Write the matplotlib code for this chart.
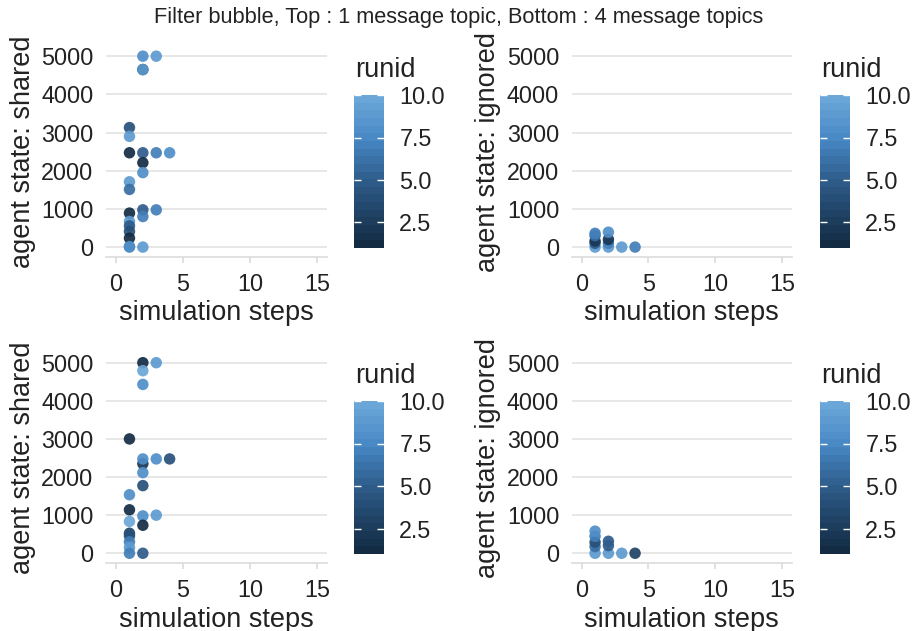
import numpy as np
import matplotlib
matplotlib.use('Agg')
import matplotlib.pyplot as plt
from matplotlib.colors import LinearSegmentedColormap, Normalize
import matplotlib.cm as cm

plt.rcParams['font.family'] = ['Liberation Sans', 'DejaVu Sans']

# Top row : 1 message topic
shared1_step = [2, 2, 2, 3, 1, 1, 1, 2, 3, 4, 2, 2, 1, 1, 1, 1, 1, 1, 1, 1, 1, 2, 2, 2, 3]
shared1_val = [5000, 4650, 4650, 5000, 3130, 2900, 2470, 2470, 2470, 2470, 2210, 1950, 1710, 1510,
               890, 670, 555, 410, 235, 15, 0, 975, 800, 0, 975]
shared1_run = [8, 1, 9, 9, 4, 9, 1, 5, 7, 8, 1, 8, 9, 6, 1, 9, 5, 4, 1, 7, 8, 5, 7, 9, 7]

ignored1_step = [1, 1, 1, 1, 1, 2, 2, 2, 2, 3, 4]
ignored1_val = [0, 100, 160, 300, 360, 0, 100, 200, 390, 0, 0]
ignored1_run = [9, 5, 2, 6, 7, 9, 7, 2, 8, 9, 7]

# Bottom row : 4 message topics
shared4_step = [2, 2, 2, 3, 1, 2, 2, 3, 4, 2, 2, 1, 1, 1, 1, 1, 1, 1, 1, 2, 2, 2, 3]
shared4_val = [5000, 4790, 4430, 5000, 3000, 2350, 2475, 2475, 2475, 2115, 1775,
               1535, 1140, 835, 525, 455, 300, 150, 0, 980, 735, 0, 1000]
shared4_run = [1, 10, 8, 9, 1, 2, 8, 8, 4, 8, 4, 8, 1, 10, 3, 4, 7, 9, 7, 8, 1, 5, 9]

ignored4_step = [1, 1, 1, 1, 1, 2, 2, 2, 3, 4]
ignored4_val = [0, 175, 290, 445, 580, 0, 200, 315, 0, 0]
ignored4_run = [9, 6, 4, 7, 8, 9, 5, 5, 9, 3]

x_ticks = [0, 5, 10, 15]
y_ticks = [0, 1000, 2000, 3000, 4000, 5000]
cbar_ticks = [2.5, 5.0, 7.5, 10.0]

cmap = LinearSegmentedColormap.from_list(
    'gg', [(0.0, '#132B43'), (0.44, '#2e5c8a'), (0.72, '#4787c4'), (1.0, '#6aa6d8')])
norm = Normalize(vmin=1, vmax=10)

fig = plt.figure(figsize=(9.18, 6.31), dpi=100)
fig.text(0.5, 1 - 17 / 631, 'Filter bubble, Top : 1 message topic, Bottom : 4 message topics',
         ha='center', va='center', fontsize=15.7, color='#222222')

panels = [
    (shared1_step, shared1_val, shared1_run, 'agent state: shared', [0.1155, 0.5933, 0.2407, 0.3328], 354, 95),
    (ignored1_step, ignored1_val, ignored1_run, 'agent state: ignored', [0.6228, 0.5933, 0.2397, 0.3328], 820, 95),
    (shared4_step, shared4_val, shared4_run, 'agent state: shared', [0.1155, 0.1081, 0.2407, 0.3322], 354, 401),
    (ignored4_step, ignored4_val, ignored4_run, 'agent state: ignored', [0.6228, 0.1081, 0.2397, 0.3322], 820, 401),
]

for steps, vals, runs, ylab, rect, cx, cy in panels:
    ax = fig.add_axes(rect)
    ax.scatter(steps, vals, c=runs, cmap=cmap, norm=norm, s=68, alpha=0.92,
               edgecolors='none', zorder=3)
    ax.set_xlim(-0.75, 15.75)
    ax.set_ylim(-250, 5250)
    ax.set_xticks(x_ticks)
    ax.set_yticks(y_ticks)
    ax.grid(axis='y', color='#e3e3e3', linewidth=1.2)
    ax.set_axisbelow(True)
    for s in ['top', 'right', 'left']:
        ax.spines[s].set_visible(False)
    ax.spines['bottom'].set_color('#dcdcdc')
    ax.spines['bottom'].set_linewidth(1.2)
    ax.tick_params(axis='y', length=0, pad=9, labelsize=16.8, labelcolor='#222222')
    ax.tick_params(axis='x', length=4, width=1.2, color='#dcdcdc', pad=8,
                   labelsize=16.8, labelcolor='#222222')
    ax.set_xlabel('simulation steps', fontsize=19.5, color='#222222', labelpad=3)
    ax.set_ylabel(ylab, fontsize=19.5, color='#222222', labelpad=4)

    # colour bar
    cax = fig.add_axes([cx / 918, 1 - (cy + 153) / 631, 30 / 918, 153 / 631])
    sm = cm.ScalarMappable(norm=norm, cmap=cmap.resampled(20))
    cb = fig.colorbar(sm, cax=cax, ticks=cbar_ticks)
    cb.outline.set_visible(False)
    cb.ax.set_yticklabels(['2.5', '5.0', '7.5', '10.0'])
    cax.tick_params(direction='in', length=5, width=1, color='white', left=True, right=True,
                    labelsize=16.8, labelcolor='#222222', pad=11)
    fig.text((cx + 1) / 918, 1 - (cy - 25) / 631, 'runid', ha='left', va='center',
             fontsize=19.5, color='#222222')

fig.savefig('out.png', dpi=100)
